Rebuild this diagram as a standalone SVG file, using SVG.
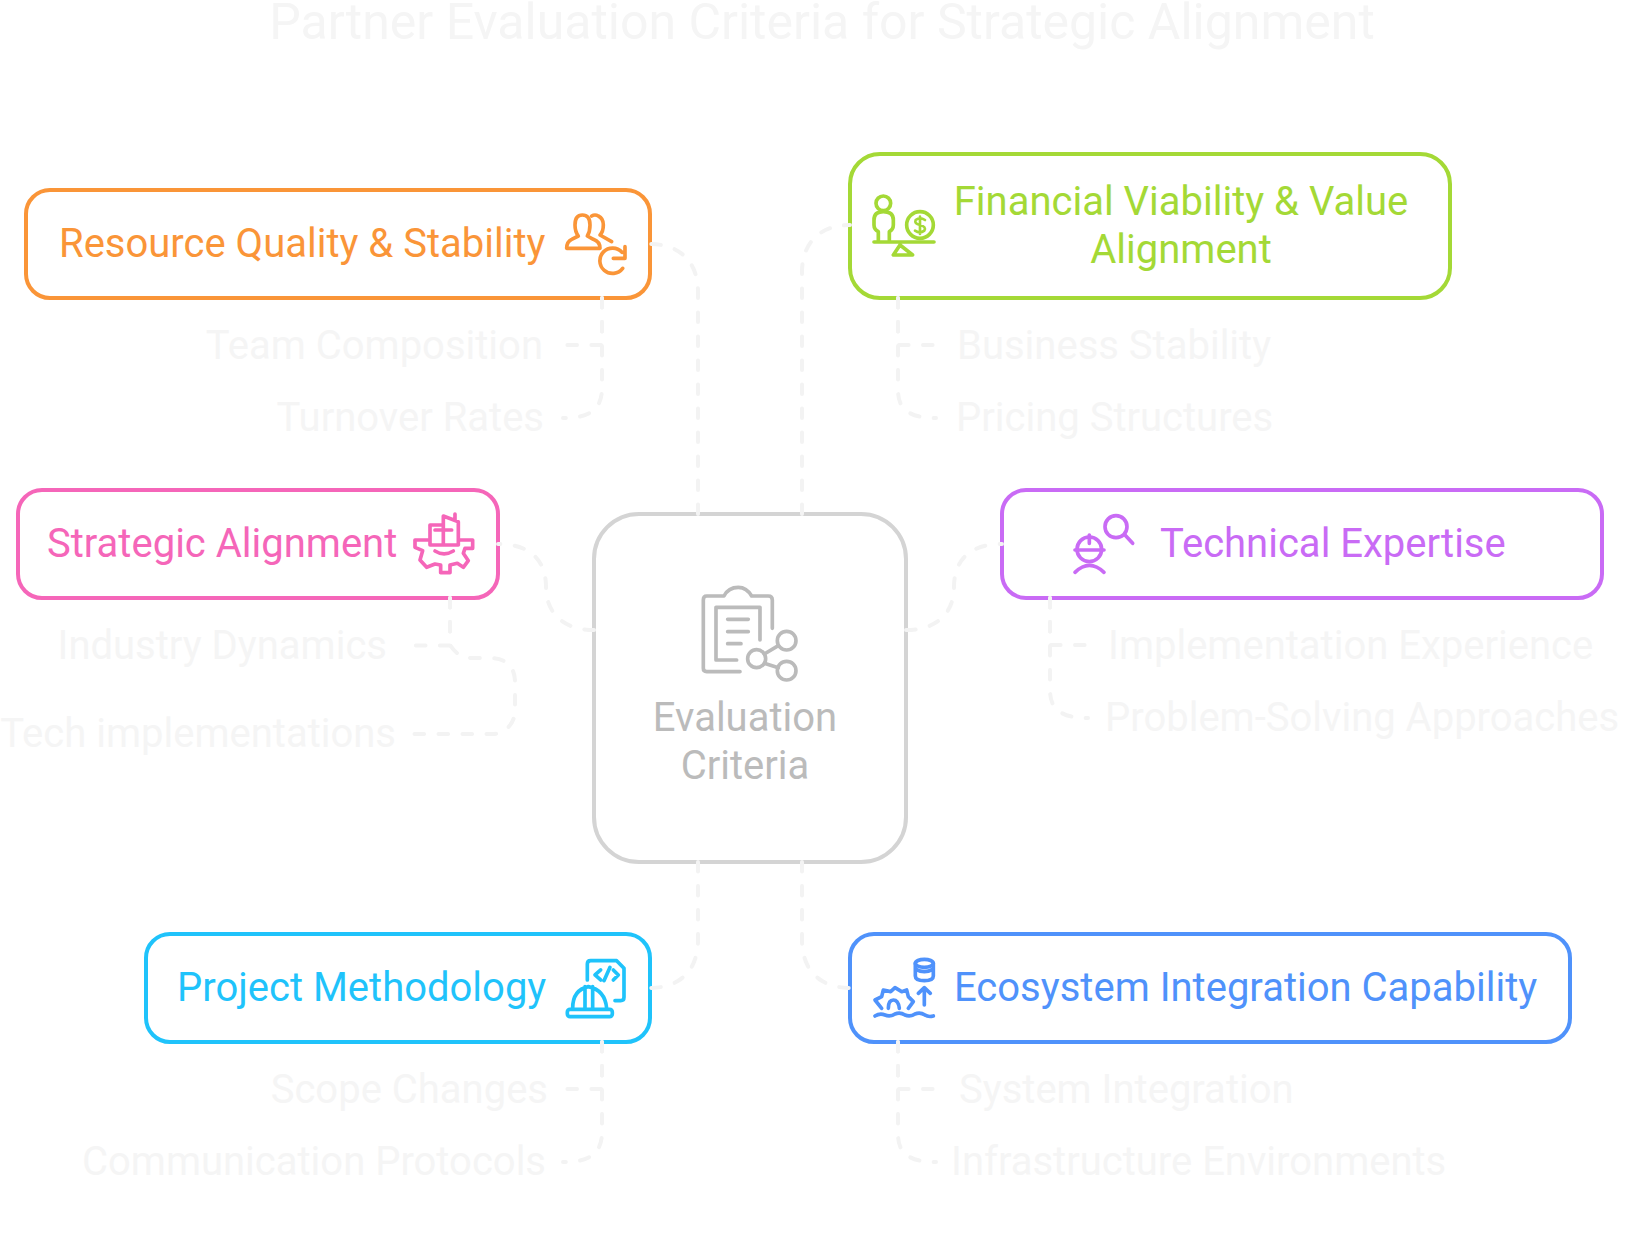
<svg xmlns="http://www.w3.org/2000/svg" width="1646" height="1237" viewBox="0 0 1646 1237">
<style>
text{font-family:Roboto,"Liberation Sans",sans-serif;font-size:40px}
.t{font-size:50px;fill:#f5f5f5;text-anchor:middle}
.s{fill:#f5f5f5}
.e{text-anchor:end}
.m{text-anchor:middle}
.b{fill:#fff;stroke-width:4}
.i{fill:none;stroke-width:11;stroke-linecap:round;stroke-linejoin:round}
.c{fill:none;stroke:#f3f3f3;stroke-width:4;stroke-dasharray:9.6 14.4;stroke-linecap:round}
</style>
<text id="title" class="t" x="822" y="39">Partner Evaluation Criteria for Strategic Alignment</text>
<g id="center">
<rect class="b" x="594" y="514" width="312" height="348" rx="45" stroke="#d4d4d4"/>
<g class="i" stroke="#bbb" transform="translate(580 500) scale(.3333)" stroke-width="12">
<path d="M480 515H380Q370 515 370 505V300Q370 288 380 288H432Q445 262 475 262Q500 262 515 288H565Q577 288 577 300V385"/>
<path d="M470 480H408V322H540V420"/>
<path d="M443 358H505M443 395H505M443 431H483"/>
<circle cx="530" cy="476" r="27"/><circle cx="620" cy="422" r="28"/><circle cx="620" cy="512" r="28"/>
<path d="M553 462L595 437M553 490L595 503"/>
</g>
<text class="m" x="745" y="731" fill="#bbb">Evaluation</text>
<text class="m" x="745" y="779" fill="#bbb">Criteria</text>
</g>
<g id="resource">
<rect class="b" x="26" y="190" width="624" height="108" rx="24" stroke="#fa9538"/>
<text x="59" y="257" fill="#fa9538">Resource Quality &amp; Stability</text>
<g class="i" stroke="#fa9538" transform="translate(550 200) scale(.3333)">
<path d="M50 145H150Q150 125 130 118L112 108Q120 95 120 75Q120 45 97 45Q75 45 75 75Q75 95 85 108L65 118Q50 125 50 145Z"/>
<path d="M125 48Q135 42 145 48Q160 55 160 75Q160 95 150 105L185 125"/>
<path d="M218 205A38 38 0 1 1 216 157M225 140V175H190"/>
</g>
</g>
<g id="financial">
<rect class="b" x="850" y="154" width="600" height="144" rx="30" stroke="#a4d936"/>
<text class="m" x="1181" y="215" fill="#a4d936">Financial Viability &amp; Value</text>
<text class="m" x="1181" y="263" fill="#a4d936">Alignment</text>
<g class="i" stroke="#a4d936" transform="translate(830 140) scale(.3333)">
<circle cx="160" cy="190" r="22"/>
<path d="M145 303V275Q132 268 132 255V240Q132 215 160 215Q190 215 190 240V255Q190 268 178 275V303"/>
<circle cx="270" cy="255" r="40"/>
<path d="M285 240Q270 230 257 240Q252 252 270 255Q290 260 283 272Q270 282 255 272M270 230V282" stroke-width="8"/>
<path d="M132 306H312M210 315L190 345H248Z"/>
</g>
</g>
<g id="strategic">
<rect class="b" x="18" y="490" width="480" height="108" rx="24" stroke="#f566b9"/>
<text x="47" y="557" fill="#f566b9">Strategic Alignment</text>
<g class="i" stroke="#f566b9" transform="translate(380 490) scale(.3333)">
<path d="M145 150H105V172L128 182L120 210L140 232L165 222L182 225V248H210V225L232 220L250 232L265 212L250 190L255 175H278V150H240"/>
<path d="M165 183Q192 200 220 183"/>
<path d="M190 165H150V105H190V78L235 95V165H190V105M165 120H215M225 72V90"/>
</g>
</g>
<g id="technical">
<rect class="b" x="1002" y="490" width="600" height="108" rx="24" stroke="#c96bf5"/>
<text x="1160" y="557" fill="#c96bf5">Technical Expertise</text>
<g class="i" stroke="#c96bf5" transform="translate(1040 490) scale(.3333)">
<circle cx="228" cy="110" r="33"/><path d="M255 135L278 160"/>
<circle cx="148" cy="178" r="37"/><path d="M105 180H192M148 135V160M105 247Q148 205 192 247"/>
</g>
</g>
<g id="project">
<rect class="b" x="146" y="934" width="504" height="108" rx="24" stroke="#1fc3fb"/>
<text x="177" y="1001" fill="#1fc3fb">Project Methodology</text>
<g class="i" stroke="#1fc3fb" transform="translate(550 940) scale(.3333)">
<path d="M112 120V72Q112 62 122 62H200L222 85V172Q222 182 212 182H195"/>
<path d="M152 90L135 105L152 120M190 90L205 105L190 120M180 82L162 122"/>
<rect x="52" y="208" width="135" height="22" rx="8"/>
<path d="M68 205Q68 150 115 140Q165 150 170 205M105 205V140M128 205V140"/>
</g>
</g>
<g id="ecosystem">
<rect class="b" x="850" y="934" width="720" height="108" rx="24" stroke="#4f92fb"/>
<text x="954" y="1001" fill="#4f92fb">Ecosystem Integration Capability</text>
<g class="i" stroke="#4f92fb" transform="translate(860 940) scale(.3333)">
<ellipse cx="193" cy="70" rx="27" ry="12"/>
<path d="M166 70V108Q166 122 193 122Q220 122 220 108V70M168 88Q193 102 218 88"/>
<path d="M193 195V145M175 160L193 143L211 160"/>
<path d="M45 228Q60 218 75 225Q90 232 105 222Q120 215 135 225Q150 232 165 222Q180 215 195 225Q205 232 220 228"/>
<path d="M65 205L45 180L65 170L70 150L92 155L105 143L125 155L140 150L145 170L160 185L145 205M85 205Q85 180 100 180Q115 180 118 205"/>
</g>
</g>
<g id="labels">
<text class="s e" x="543" y="359">Team Composition</text>
<text class="s e" x="544" y="431">Turnover Rates</text>
<text class="s" x="957" y="359">Business Stability</text>
<text class="s" x="956" y="431">Pricing Structures</text>
<text class="s e" x="387" y="659">Industry Dynamics</text>
<text class="s e" x="396" y="747">Tech implementations</text>
<text class="s" x="1108" y="659">Implementation Experience</text>
<text class="s" x="1105" y="731">Problem-Solving Approaches</text>
<text class="s e" x="548" y="1103">Scope Changes</text>
<text class="s e" x="546" y="1175">Communication Protocols</text>
<text class="s" x="959" y="1103">System Integration</text>
<text class="s" x="951" y="1175">Infrastructure Environments</text>
</g>
<g id="connectors">
<path class="c" d="M698 514V292C698 262 680 244 650 244"/>
<path class="c" d="M802 514V272C802 243 820 225 850 225"/>
<path class="c" d="M594 630C562 630 546 612 546 587C546 560 530 544 498 544"/>
<path class="c" d="M906 630C938 630 954 612 954 587C954 560 970 544 1002 544"/>
<path class="c" d="M698 862V940C698 970 680 988 650 988"/>
<path class="c" d="M802 862V940C802 970 820 988 850 988"/>
<path class="c" d="M602 298V388C602 410 589 418 564 418H563"/>
<path class="c" d="M602 298V345H567"/>
<path class="c" d="M898 298V390C898 410 910 418 936 418"/>
<path class="c" d="M898 298V345H934"/>
<path class="c" d="M450 598V645C455 652 460 658 472 658H490C507 658 515 668 515 682V710C515 724 505 734 492 734H413"/>
<path class="c" d="M450 598V645.500H415"/>
<path class="c" d="M1050 598V690C1050 710 1062 718 1088 718"/>
<path class="c" d="M1050 598V645H1085"/>
<path class="c" d="M602 1042V1132C602 1154 589 1162 564 1162H563"/>
<path class="c" d="M602 1042V1089H567"/>
<path class="c" d="M898 1042V1134C898 1154 910 1162 936 1162"/>
<path class="c" d="M898 1042V1089H934"/>
</g>
</svg>
